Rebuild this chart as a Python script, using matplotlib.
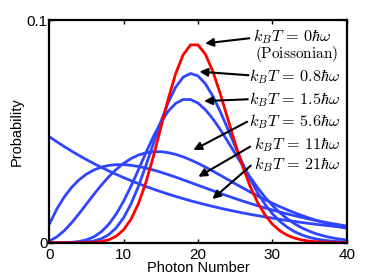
import matplotlib
matplotlib.use("Agg")
import matplotlib.pyplot as plt


plt.rcParams["font.family"] = ["Liberation Sans", "DejaVu Sans"]
plt.rcParams["mathtext.fontset"] = "cm"

photon_number = list(range(41))

# red curve, kBT = 0 (Poissonian)
p_poisson = [
    0.00000, 0.00000, 0.00000, 0.00000, 0.00001, 0.00005, 0.00018, 0.00052,
    0.00131, 0.00291, 0.00582, 0.01057, 0.01762, 0.02711, 0.03873, 0.05164,
    0.06455, 0.07595, 0.08438, 0.08883, 0.08883, 0.08460, 0.07691, 0.06687,
    0.05573, 0.04458, 0.03429, 0.02540, 0.01815, 0.01251, 0.00834, 0.00538,
    0.00336, 0.00204, 0.00120, 0.00069, 0.00038, 0.00021, 0.00011, 0.00006,
    0.00003,
]

# blue curves, kBT = 0.8, 1.5, 5.6, 11, 21 hbar omega
p_t08 = [
    0.00000, 0.00000, 0.00001, 0.00003, 0.00010, 0.00030, 0.00078, 0.00178,
    0.00362, 0.00666, 0.01123, 0.01750, 0.02541, 0.03463, 0.04452, 0.05428,
    0.06300, 0.06988, 0.07432, 0.07599, 0.07491, 0.07134, 0.06578, 0.05884,
    0.05113, 0.04324, 0.03564, 0.02866, 0.02252, 0.01731, 0.01302, 0.00960,
    0.00694, 0.00493, 0.00344, 0.00236, 0.00159, 0.00106, 0.00069, 0.00045,
    0.00028,
]
p_t15 = [
    0.00000, 0.00001, 0.00005, 0.00018, 0.00053, 0.00127, 0.00264, 0.00490,
    0.00827, 0.01287, 0.01866, 0.02544, 0.03286, 0.04044, 0.04766, 0.05402,
    0.05908, 0.06256, 0.06430, 0.06430, 0.06269, 0.05970, 0.05563, 0.05079,
    0.04550, 0.04004, 0.03465, 0.02952, 0.02478, 0.02050, 0.01674, 0.01350,
    0.01076, 0.00848, 0.00661, 0.00510, 0.00389, 0.00295, 0.00221, 0.00164,
    0.00121,
]
p_t56 = [
    0.00077, 0.00257, 0.00536, 0.00893, 0.01302, 0.01736, 0.02171, 0.02584,
    0.02961, 0.03290, 0.03564, 0.03780, 0.03937, 0.04038, 0.04086, 0.04086,
    0.04044, 0.03965, 0.03854, 0.03719, 0.03564, 0.03395, 0.03215, 0.03028,
    0.02839, 0.02650, 0.02463, 0.02280, 0.02104, 0.01935, 0.01773, 0.01621,
    0.01477, 0.01343, 0.01218, 0.01102, 0.00995, 0.00896, 0.00806, 0.00723,
    0.00648,
]
p_t11 = [
    0.00826, 0.01503, 0.02049, 0.02484, 0.02822, 0.03079, 0.03266, 0.03393,
    0.03470, 0.03505, 0.03505, 0.03476, 0.03423, 0.03351, 0.03264, 0.03165,
    0.03058, 0.02943, 0.02824, 0.02703, 0.02580, 0.02457, 0.02335, 0.02215,
    0.02098, 0.01983, 0.01872, 0.01765, 0.01662, 0.01563, 0.01468, 0.01378,
    0.01292, 0.01210, 0.01132, 0.01059, 0.00989, 0.00924, 0.00862, 0.00803,
    0.00749,
]
p_t21 = [
    0.04762, 0.04535, 0.04319, 0.04114, 0.03918, 0.03731, 0.03553, 0.03384,
    0.03223, 0.03070, 0.02923, 0.02784, 0.02652, 0.02525, 0.02405, 0.02291,
    0.02181, 0.02078, 0.01979, 0.01884, 0.01795, 0.01709, 0.01628, 0.01550,
    0.01476, 0.01406, 0.01339, 0.01275, 0.01215, 0.01157, 0.01102, 0.01049,
    0.00999, 0.00952, 0.00906, 0.00863, 0.00822, 0.00783, 0.00746, 0.00710,
    0.00676,
]

labels = [
    r"$k_BT\,=\,0\hbar\omega$",
    r"$k_BT\,=\,0.8\hbar\omega$",
    r"$k_BT\,=\,1.5\hbar\omega$",
    r"$k_BT\,=\,5.6\hbar\omega$",
    r"$k_BT\,=\,11\hbar\omega$",
    r"$k_BT\,=\,21\hbar\omega$",
]

BLUE = "#2f45ff"
RED = "#ff0000"

fig = plt.figure(figsize=(3.82, 2.78), dpi=100)
ax = fig.add_axes([0.129, 0.127, 0.7786, 0.801])

for ys in [p_t21, p_t11, p_t56, p_t15, p_t08]:
    ax.plot(photon_number, ys, color=BLUE, lw=2.0, solid_joinstyle="round")
ax.plot(photon_number, p_poisson, color=RED, lw=2.0, solid_joinstyle="miter")

ax.set_xlim(0, 40)
ax.set_ylim(0, 0.1)
ax.set_xticks([0, 10, 20, 30, 40])
ax.set_yticks([0, 0.1])
ax.set_yticklabels(["0", "0.1"])

ax.tick_params(direction="in", length=3, width=1.0, top=True, right=True,
               labelsize=11)
ax.tick_params(axis="x", pad=4)
ax.tick_params(axis="y", pad=1)
for s in ax.spines.values():
    s.set_linewidth(1.6)

ax.set_xlabel("Photon Number", fontsize=10.5, labelpad=-1)
ax.set_ylabel("Probability", fontsize=10.5, labelpad=2)

# text positions (left edge, centre) and arrows (tail -> head)
text_pos = [(27.4, 0.0925), (26.9, 0.0748), (26.8, 0.0644),
            (26.8, 0.0544), (27.5, 0.0442), (27.5, 0.0352)]
arrows = [((26.9, 0.0918), (20.96, 0.0895)),
          ((26.8, 0.0752), (20.19, 0.0768)),
          ((26.7, 0.0644), (20.82, 0.0636)),
          ((26.6, 0.0543), (19.38, 0.0416)),
          ((27.0, 0.0431), (20.05, 0.0296)),
          ((27.1, 0.0346), (21.94, 0.0196))]

for lab, (tx, ty) in zip(labels, text_pos):
    ax.text(tx, ty, lab, fontsize=11.7, ha="left", va="center")
ax.text(27.7, 0.0846, r"$\mathrm{(Poissonian)}$", fontsize=11,
        ha="left", va="center")

for tail, head in arrows:
    ax.annotate("", xy=head, xytext=tail,
                arrowprops=dict(arrowstyle="-|>", color="black", lw=1.5,
                                mutation_scale=12, shrinkA=0, shrinkB=0))

fig.savefig("out.png", dpi=100)
